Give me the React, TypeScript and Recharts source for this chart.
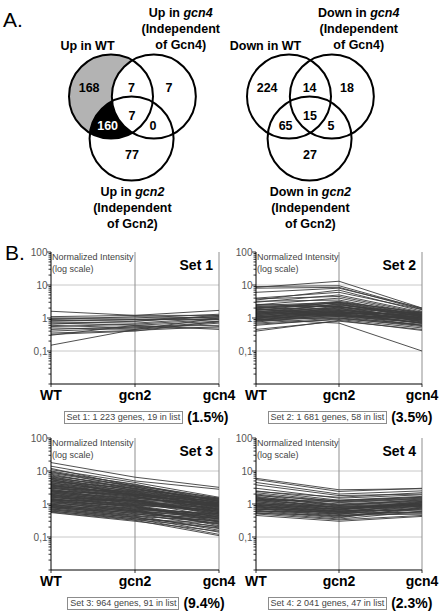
import React from "react";
import { LineChart, Line, XAxis, YAxis, CartesianGrid, ScatterChart, Scatter } from "recharts";

// ---- Venn data ----
// region order: WT only, WT+gcn4, gcn4 only, all three, WT+gcn2, gcn4+gcn2, gcn2 only
const upCounts = [168, 7, 7, 7, 160, 0, 77];
const downCounts = [224, 14, 18, 15, 65, 5, 27];
const upTitles = [["Up in WT"], ["Up in gcn4", "(Independent", "of Gcn4)"], ["Up in gcn2", "(Independent", "of Gcn2)"]];
const downTitles = [["Down in WT"], ["Down in gcn4", "(Independent", "of Gcn4)"], ["Down in gcn2", "(Independent", "of Gcn2)"]];

// ---- Expression profiles: [WT, gcn2, gcn4] per gene ----
const conditions = ["WT", "gcn2", "gcn4"];

const set1Lines = [
  [1.6, 1.2, 1.7], [1.1, 1.2, 1.2], [1.0, 1.0, 1.3], [0.95, 0.9, 1.1], [0.9, 1.1, 1.0],
  [0.85, 0.8, 1.2], [0.8, 0.9, 0.9], [0.75, 0.7, 1.0], [0.7, 0.6, 0.8], [0.65, 0.8, 1.1],
  [0.6, 0.5, 0.75], [0.55, 0.65, 0.9], [0.5, 0.45, 0.7], [0.45, 0.55, 0.6], [0.4, 0.5, 0.5],
  [0.35, 0.42, 0.55], [0.32, 0.4, 0.8], [0.3, 0.6, 0.45], [0.15, 0.45, 1.0],
];

const set2Lines = [
  [8.5, 13, 2.0], [9, 9.5, 1.9], [8, 8.5, 1.8], [6, 8, 2.0], [3.5, 7, 1.6],
  [4, 6, 1.8], [3, 5, 1.5], [3.8, 4.5, 1.4], [2.5, 4, 1.3], [3.2, 3.5, 1.2],
  [2.4, 3.0, 1.5], [2.2, 2.8, 1.1], [2.0, 2.5, 1.3], [2.3, 2.2, 0.9], [1.9, 2.9, 1.2],
  [1.8, 2.0, 1.0], [1.7, 2.4, 1.4], [1.6, 1.8, 0.8], [1.5, 2.6, 1.1], [1.5, 1.6, 0.9],
  [1.4, 2.1, 1.2], [1.4, 1.5, 0.7], [1.3, 1.9, 1.0], [1.3, 1.4, 1.3], [1.25, 2.3, 0.85],
  [1.2, 1.7, 1.1], [1.2, 1.3, 0.95], [1.15, 2.0, 0.75], [1.1, 1.5, 1.2], [1.1, 1.2, 0.9],
  [1.05, 1.8, 1.0], [1.0, 1.6, 0.8], [1.0, 1.1, 1.1], [0.95, 1.4, 0.7], [0.95, 2.2, 1.3],
  [0.9, 1.3, 0.9], [0.9, 1.0, 0.65], [0.85, 1.5, 1.0], [0.85, 1.2, 0.8], [0.8, 1.1, 0.6],
  [0.8, 1.7, 1.15], [1.6, 1.1, 0.75], [1.8, 1.4, 1.05], [2.1, 1.6, 0.85], [1.7, 3.0, 1.25],
  [1.35, 2.7, 0.95], [2.6, 2.2, 1.2], [1.45, 1.25, 0.6], [1.9, 1.2, 0.7], [2.0, 3.2, 1.4],
  [0.7, 1.0, 0.55], [0.65, 0.9, 0.5], [0.6, 0.95, 0.6], [0.45, 0.8, 0.45], [0.4, 0.85, 0.42],
  [0.9, 0.7, 0.1], [1.05, 1.35, 1.5], [0.75, 1.3, 0.7],
];

const set3Lines = [
  [18, 6.5, 3.2], [14, 5, 2.8], [11, 4.5, 1.6], [10, 3.8, 1.5], [9.5, 3.2, 1.3],
  [9, 4, 1.2], [8.5, 3.5, 1.4], [8, 2.8, 1.1], [7.5, 3.0, 0.9], [7, 3.6, 1.5],
  [6.8, 2.5, 1.0], [6.5, 2.9, 1.3], [6.2, 2.2, 0.8], [6, 3.3, 1.2], [5.8, 2.6, 1.1],
  [5.5, 2.0, 0.9], [5.3, 2.7, 1.4], [5, 2.4, 0.7], [4.9, 1.9, 1.0], [4.7, 3.0, 1.2],
  [4.5, 2.1, 0.85], [4.4, 1.7, 0.6], [4.2, 2.5, 1.1], [4.0, 1.8, 0.95], [3.9, 2.3, 0.75],
  [3.8, 1.6, 1.3], [3.6, 2.0, 0.65], [3.5, 1.5, 0.9], [3.4, 2.2, 1.0], [3.3, 1.4, 0.55],
  [3.2, 1.9, 0.8], [3.1, 1.3, 1.1], [3.0, 1.7, 0.7], [2.9, 2.4, 0.95], [2.8, 1.2, 0.5],
  [2.7, 1.6, 0.85], [2.6, 1.1, 0.6], [2.55, 1.8, 1.2], [2.5, 1.35, 0.45], [2.4, 1.0, 0.75],
  [2.35, 1.5, 0.9], [2.3, 1.25, 0.55], [2.2, 0.95, 0.65], [2.15, 1.45, 1.0], [2.1, 1.15, 0.4],
  [2.0, 0.9, 0.7], [1.95, 1.3, 0.5], [1.9, 1.05, 0.8], [1.85, 0.85, 0.35], [1.8, 1.2, 0.6],
  [1.75, 0.8, 0.45], [1.7, 1.1, 0.9], [1.65, 0.75, 0.38], [1.6, 0.95, 0.55], [1.55, 1.25, 0.7],
  [1.5, 0.7, 0.42], [1.45, 0.9, 0.3], [1.4, 0.65, 0.5], [1.38, 1.0, 0.6], [1.35, 0.8, 0.35],
  [1.3, 0.6, 0.45], [1.25, 0.85, 0.28], [1.2, 0.7, 0.52], [1.18, 0.55, 0.33], [1.15, 0.9, 0.4],
  [1.1, 0.62, 0.25], [1.05, 0.75, 0.48], [1.0, 0.5, 0.3], [0.98, 0.68, 0.22], [0.95, 0.58, 0.4],
  [0.92, 0.45, 0.27], [0.9, 0.64, 0.35], [0.87, 0.52, 0.2], [0.85, 0.42, 0.31], [0.82, 0.6, 0.24],
  [0.8, 0.48, 0.37], [0.78, 0.4, 0.18], [0.75, 0.55, 0.29], [0.72, 0.38, 0.21], [0.7, 0.45, 0.16],
  [0.68, 0.35, 0.26], [0.65, 0.4, 0.14], [0.62, 0.33, 0.19], [0.6, 0.36, 0.12], [0.57, 0.32, 0.11],
  [0.55, 0.3, 0.15], [3.7, 1.9, 1.4], [2.45, 2.0, 1.5], [5.6, 1.75, 0.65], [12, 3.4, 1.0],
  [1.28, 1.3, 0.85],
];

const set4Lines = [
  [6, 2.7, 2.9], [5.5, 2.4, 3.0], [4.5, 2.0, 2.5], [3.8, 1.8, 2.0], [3.0, 1.5, 1.9],
  [2.5, 1.3, 1.7], [2.4, 1.6, 2.2], [2.2, 1.2, 1.5], [2.0, 1.1, 1.4], [1.9, 0.9, 1.2],
  [1.8, 1.25, 1.6], [1.7, 0.85, 1.1], [1.6, 1.0, 1.3], [1.55, 0.75, 0.95], [1.5, 0.95, 1.25],
  [1.45, 0.7, 1.0], [1.4, 1.15, 1.45], [1.35, 0.8, 0.9], [1.3, 0.65, 1.1], [1.25, 0.9, 1.35],
  [1.2, 0.6, 0.85], [1.15, 0.78, 1.05], [1.1, 0.55, 0.8], [1.05, 0.7, 1.2], [1.0, 0.85, 0.95],
  [1.0, 0.5, 0.75], [0.95, 0.68, 1.15], [0.92, 0.58, 0.7], [0.9, 0.8, 1.0], [0.88, 0.48, 0.9],
  [0.85, 0.62, 0.65], [0.82, 0.52, 1.1], [0.8, 0.72, 0.85], [0.78, 0.45, 0.6], [0.75, 0.6, 0.95],
  [0.72, 0.42, 0.75], [0.7, 0.55, 0.55], [0.68, 0.66, 1.0], [0.65, 0.4, 0.7], [0.62, 0.5, 0.5],
  [0.6, 0.38, 0.8], [0.58, 0.6, 0.9], [0.55, 0.35, 0.6], [0.52, 0.45, 0.5], [0.5, 0.33, 0.45],
  [0.45, 0.3, 0.42], [1.3, 1.3, 1.6],
];

const setNames = ["Set 1", "Set 2", "Set 3", "Set 4"];
const setCaptions = [
  "Set 1: 1 223 genes, 19 in list",
  "Set 2: 1 681 genes, 58 in list",
  "Set 3: 964 genes, 91 in list",
  "Set 4: 2 041 genes, 47 in list",
];
const setPercents = ["(1.5%)", "(3.5%)", "(9.4%)", "(2.3%)"];

const yTicks = [
  0.01, 0.02, 0.03, 0.04, 0.05, 0.06, 0.07, 0.08, 0.09,
  0.1, 0.2, 0.3, 0.4, 0.5, 0.6, 0.7, 0.8, 0.9,
  1, 2, 3, 4, 5, 6, 7, 8, 9,
  10, 20, 30, 40, 50, 60, 70, 80, 90, 100,
];
const decadeValues = [0.1, 1, 10, 100];
const decadeLabels = ["0,1", "1", "10", "100"];

// ---- layout ----
const FONT = '"Liberation Sans", Arial, sans-serif';
const allSets = [set1Lines, set2Lines, set3Lines, set4Lines];

// venn geometry in radius units (WT circle at origin, y grows downward)
const circleLayout = [
  { x: 0, y: 0 },
  { x: 1.02, y: 0 },
  { x: 0.49, y: 1.0 },
];
const regionLayout = [
  { x: -0.52, y: -0.22 },
  { x: 0.49, y: -0.22 },
  { x: 1.38, y: -0.22 },
  { x: 0.5, y: 0.46 },
  { x: -0.08, y: 0.7 },
  { x: 1.0, y: 0.7 },
  { x: 0.5, y: 1.38 },
];
const titleLayout = [
  { x: -0.56, y: -1.11 },
  { x: 1.66, y: -1.895 },
  { x: 0.51, y: 2.367 },
];
const VX: [number, number] = [-2.5, 3.5];
const VY: [number, number] = [-2.3, 3.3];
const VW = 252;
const VH = 235;
const UNIT = VW / (VX[1] - VX[0]);

function richLine(text: string) {
  return text.split(/(gcn\d)/).map((part, i) =>
    /^gcn\d$/.test(part) ? (
      <tspan key={i} fontStyle="italic">{part}</tspan>
    ) : (
      <tspan key={i}>{part}</tspan>
    )
  );
}

function Venn({ counts, titles, shaded, id, left }: { counts: number[]; titles: string[][]; shaded: boolean; id: string; left: number }) {
  const circles = circleLayout.map((c, i) => ({ ...c, idx: i }));
  const regions = regionLayout.map((r, i) => ({ ...r, count: counts[i], idx: i }));
  const labels = titleLayout.map((t, i) => ({ ...t, lines: titles[i] }));
  return (
    <div style={{ position: "absolute", left, top: 0 }}>
      <ScatterChart width={VW} height={VH} margin={{ top: 0, right: 0, bottom: 0, left: 0 }}>
        <XAxis type="number" dataKey="x" domain={VX} hide allowDataOverflow />
        <YAxis type="number" dataKey="y" domain={VY} reversed hide allowDataOverflow />
        <Scatter
          data={[circles[0]]}
          isAnimationActive={false}
          shape={(p: any) => (
            <g>
              <defs>
                <clipPath id={`${id}-wt`}>
                  <circle cx={p.cx} cy={p.cy} r={UNIT} />
                </clipPath>
              </defs>
              <circle cx={p.cx} cy={p.cy} r={UNIT} fill={shaded ? "#b3b3b3" : "#fff"} />
            </g>
          )}
        />
        <Scatter
          data={[circles[2]]}
          isAnimationActive={false}
          shape={(p: any) => (
            <circle cx={p.cx} cy={p.cy} r={UNIT} fill={shaded ? "#000" : "#fff"} clipPath={`url(#${id}-wt)`} />
          )}
        />
        <Scatter
          data={[circles[1]]}
          isAnimationActive={false}
          shape={(p: any) => <circle cx={p.cx} cy={p.cy} r={UNIT} fill="#fff" />}
        />
        <Scatter
          data={circles}
          isAnimationActive={false}
          shape={(p: any) => <circle cx={p.cx} cy={p.cy} r={UNIT} fill="none" stroke="#000" strokeWidth={2} />}
        />
        <Scatter
          data={regions}
          isAnimationActive={false}
          shape={(p: any) => (
            <text
              x={p.cx}
              y={p.cy}
              dy="0.36em"
              textAnchor="middle"
              fontSize={12.5}
              fontWeight="bold"
              fill={shaded && p.payload.idx === 4 ? "#fff" : "#000"}
            >
              {p.payload.count}
            </text>
          )}
        />
        <Scatter
          data={labels}
          isAnimationActive={false}
          shape={(p: any) => (
            <text x={p.cx} y={p.cy} textAnchor="middle" fontSize={12.5} fontWeight="bold" fill="#000">
              {p.payload.lines.map((ln: string, i: number) => (
                <tspan key={i} x={p.cx} dy={i === 0 ? 0 : 16}>
                  {richLine(ln)}
                </tspan>
              ))}
            </text>
          )}
        />
      </ScatterChart>
    </div>
  );
}

function YTick(props: any) {
  const { x, y, payload } = props;
  const k = decadeValues.findIndex((d) => Math.abs(d - payload.value) < 1e-9);
  const major = k >= 0;
  return (
    <g>
      <line x1={x} x2={x - (major ? 4 : 2.5)} y1={y} y2={y} stroke="#000" strokeWidth={0.8} />
      {major && (
        <text x={x - 3.5} y={y} dy={3.5} textAnchor="end" fontSize={10} fill="#555">
          {decadeLabels[k]}
        </text>
      )}
    </g>
  );
}

function XTick(props: any) {
  const { x, y, payload } = props;
  return (
    <g>
      <line x1={x} x2={x} y1={y} y2={y + 3} stroke="#000" strokeWidth={0.8} />
      <text x={x} y={y + 16} textAnchor="middle" fontSize={14} fontWeight="bold" fill="#000">
        {payload.value}
      </text>
    </g>
  );
}

const PLOT_H = 132;
const Y_AXIS_W = 51;

function Panel({ idx, left, top, width, marginRight }: { idx: number; left: number; top: number; width: number; marginRight: number }) {
  const lines = allSets[idx];
  const data = conditions.map((c, ci) => {
    const row: Record<string, string | number> = { cond: c };
    lines.forEach((l, li) => {
      row[`g${li}`] = l[ci];
    });
    return row;
  });
  const plotLeft = left + Y_AXIS_W;
  const plotRight = left + width - marginRight;
  const plotTop = top + 10;
  const plotBottom = plotTop + PLOT_H;
  return (
    <>
      <div style={{ position: "absolute", left, top }}>
        <LineChart width={width} height={10 + PLOT_H + 25} data={data} margin={{ top: 10, right: marginRight, bottom: 0, left: 0 }}>
          <CartesianGrid horizontalValues={[0.1, 1, 10]} vertical={false} stroke="#c8c8c8" />
          <CartesianGrid verticalValues={["gcn2", "gcn4"]} horizontal={false} stroke="#8f8f8f" />
          <XAxis
            dataKey="cond"
            scale="point"
            padding={{ left: 0, right: 0 }}
            height={25}
            tickSize={0}
            tickMargin={0}
            tickLine={false}
            interval={0}
            axisLine={{ stroke: "#000" }}
            tick={(p: any) => <XTick {...p} />}
          />
          <YAxis
            type="number"
            scale="log"
            domain={[0.01, 100]}
            allowDataOverflow
            ticks={yTicks}
            interval={0}
            width={Y_AXIS_W}
            tickSize={0}
            tickMargin={0}
            tickLine={false}
            axisLine={{ stroke: "#000" }}
            tick={(p: any) => <YTick {...p} />}
          />
          {lines.map((_, li) => (
            <Line
              key={li}
              dataKey={`g${li}`}
              stroke="#3c3c3c"
              strokeWidth={0.9}
              dot={false}
              activeDot={false}
              isAnimationActive={false}
            />
          ))}
        </LineChart>
      </div>
      <div style={{ position: "absolute", left: plotLeft + 1, top: plotTop + 1.4, fontSize: 9, lineHeight: "9px", color: "#444", whiteSpace: "nowrap" }}>
        Normalized Intensity
      </div>
      <div style={{ position: "absolute", left: plotLeft + 1, top: plotTop + 12.9, fontSize: 9, lineHeight: "9px", color: "#444", whiteSpace: "nowrap" }}>
        (log scale)
      </div>
      <div
        style={{ position: "absolute", right: 440 - (plotRight - 6), top: plotTop + 6, fontSize: 14, lineHeight: "14px", fontWeight: "bold", whiteSpace: "nowrap" }}
      >
        {setNames[idx]}
      </div>
      <div
        style={{
          position: "absolute",
          left: plotLeft,
          width: plotRight - plotLeft + 22,
          top: plotBottom + 26,
          display: "flex",
          justifyContent: "center",
          alignItems: "center",
          gap: 4,
        }}
      >
        <div style={{ border: "1px solid #8c8c8c", fontSize: 9, lineHeight: "11px", padding: "0 2px", color: "#444", whiteSpace: "nowrap" }}>
          {setCaptions[idx]}
        </div>
        <div style={{ fontSize: 14, lineHeight: "14px", fontWeight: "bold", whiteSpace: "nowrap" }}>{setPercents[idx]}</div>
      </div>
    </>
  );
}

export default function App() {
  return (
    <div
      style={{
        position: "absolute",
        left: 0,
        top: 0,
        width: 440,
        height: 616,
        overflow: "hidden",
        background: "#fff",
        fontFamily: FONT,
        color: "#000",
      }}
    >
      <div style={{ position: "absolute", left: 3, top: 9, fontSize: 21, lineHeight: "21px" }}>A.</div>
      <Venn counts={upCounts} titles={upTitles} shaded id="up" left={6} />
      <Venn counts={downCounts} titles={downTitles} shaded={false} id="down" left={184} />
      <div style={{ position: "absolute", left: 5, top: 242, fontSize: 21, lineHeight: "21px" }}>B.</div>
      <Panel idx={0} left={0} top={242} width={240} marginRight={21} />
      <Panel idx={1} left={205} top={242} width={235} marginRight={18} />
      <Panel idx={2} left={0} top={428} width={240} marginRight={21} />
      <Panel idx={3} left={205} top={428} width={235} marginRight={18} />
    </div>
  );
}
